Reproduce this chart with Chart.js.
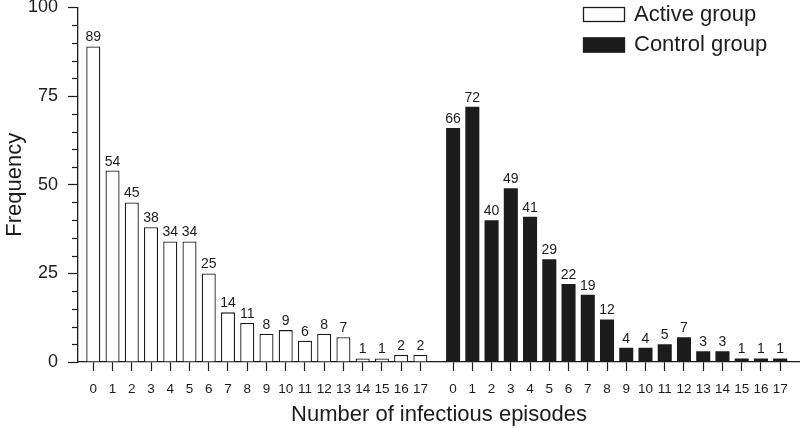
<!DOCTYPE html>
<html>
<head>
<meta charset="utf-8">
<title>Infectious episodes</title>
<script src="https://cdn.jsdelivr.net/npm/chart.js@4.4.1/dist/chart.umd.min.js"></script>
<style>
    html, body { margin: 0; padding: 0; background: #fff; }
    #wrap { width: 800px; height: 428px; }
</style>
</head>
<body>
<div id="wrap"><canvas id="chart" width="800" height="428"></canvas></div>
<script>
// number of episodes (same categories for both groups)
const episodes = [0, 1, 2, 3, 4, 5, 6, 7, 8, 9, 10, 11, 12, 13, 14, 15, 16, 17];
const activeGroup = [89, 54, 45, 38, 34, 34, 25, 14, 11, 8, 9, 6, 8, 7, 1, 1, 2, 2];
const controlGroup = [66, 72, 40, 49, 41, 29, 22, 19, 12, 4, 4, 5, 7, 3, 3, 1, 1, 1];
const yTicks = [0, 25, 50, 75, 100];
const seriesNames = ['Active group', 'Control group'];

// control block is drawn to the right of the active block
const CONTROL_SHIFT = 18.7;
const FONT = "'Liberation Sans', Arial, Helvetica, sans-serif";
const INK = '#1c1c1c';

const activePoints = episodes.map((e, i) => ({ x: e, y: activeGroup[i] }));
const controlPoints = episodes.map((e, i) => ({ x: e + CONTROL_SHIFT, y: controlGroup[i] }));
const xPositions = activePoints.concat(controlPoints).map(p => p.x);

function labelFor(value) {
    const v = value >= CONTROL_SHIFT - 0.5 ? value - CONTROL_SHIFT : value;
    return String(Math.round(v));
}

// numbers above bars
const barLabels = {
    id: 'barLabels',
    afterDatasetsDraw(chart) {
        const ctx = chart.ctx;
        ctx.save();
        ctx.font = '14px ' + FONT;
        ctx.fillStyle = INK;
        ctx.textAlign = 'center';
        ctx.textBaseline = 'alphabetic';
        chart.data.datasets.forEach((ds, di) => {
            chart.getDatasetMeta(di).data.forEach((bar, i) => {
                ctx.fillText(String(ds.data[i].y), bar.x, bar.y - 5);
            });
        });
        ctx.restore();
    }
};

// short ticks every 5 on the y axis
const minorTicks = {
    id: 'minorTicks',
    afterDraw(chart) {
        const y = chart.scales.y;
        const ctx = chart.ctx;
        ctx.save();
        ctx.strokeStyle = INK;
        ctx.lineWidth = 1.2;
        for (let v = 5; v < 100; v += 5) {
            if (v % 25 === 0) continue;
            const py = Math.round(y.getPixelForValue(v)) + 0.5;
            ctx.beginPath();
            ctx.moveTo(y.right - 6, py);
            ctx.lineTo(y.right, py);
            ctx.stroke();
        }
        ctx.restore();
    }
};

// legend in the top right corner
const boxLegend = {
    id: 'boxLegend',
    afterDraw(chart) {
        const ctx = chart.ctx;
        ctx.save();
        ctx.font = '22px ' + FONT;
        ctx.textBaseline = 'middle';
        ctx.textAlign = 'left';
        chart.data.datasets.forEach((ds, i) => {
            const top = 7 + i * 30.5;
            ctx.fillStyle = ds.backgroundColor;
            ctx.fillRect(583, top, 42, 15);
            ctx.strokeStyle = INK;
            ctx.lineWidth = 1.3;
            ctx.strokeRect(583.5, top + 0.5, 41, 14);
            ctx.fillStyle = INK;
            ctx.fillText(ds.label, 634, top + 7.5);
        });
        ctx.restore();
    }
};

new Chart(document.getElementById('chart'), {
    type: 'bar',
    data: {
        datasets: [
            {
                label: seriesNames[0],
                data: activePoints,
                backgroundColor: '#ffffff',
                borderColor: INK,
                borderWidth: 1.3
            },
            {
                label: seriesNames[1],
                data: controlPoints,
                backgroundColor: INK,
                borderColor: INK,
                borderWidth: 0
            }
        ]
    },
    options: {
        responsive: false,
        animation: false,
        devicePixelRatio: 1,
        grouped: false,
        barPercentage: 0.73,
        categoryPercentage: 1,
        layout: { padding: { top: 7.5, right: 0, left: 0, bottom: 0 } },
        plugins: {
            legend: { display: false },
            tooltip: { enabled: false }
        },
        scales: {
            x: {
                type: 'linear',
                offset: false,
                min: -0.795,
                max: 36.73,
                afterBuildTicks: (scale) => {
                    scale.ticks = xPositions.map(v => ({ value: v }));
                },
                afterFit: (scale) => {
                    scale.height = 66;
                    scale.paddingLeft = 0;
                    scale.paddingRight = 0;
                },
                ticks: {
                    autoSkip: false,
                    maxRotation: 0,
                    padding: 10,
                    color: INK,
                    font: { family: FONT, size: 13.5 },
                    callback: (value) => labelFor(value)
                },
                grid: {
                    offset: false,
                    drawOnChartArea: false,
                    tickLength: 9,
                    tickWidth: 1.2,
                    tickColor: INK
                },
                border: { display: true, color: INK, width: 1.3 },
                title: {
                    display: true,
                    text: 'Number of infectious episodes',
                    color: INK,
                    font: { family: FONT, size: 22 },
                    padding: { top: 0, bottom: 0 }
                }
            },
            y: {
                min: 0,
                max: 100,
                afterBuildTicks: (scale) => {
                    scale.ticks = yTicks.map(v => ({ value: v }));
                },
                afterFit: (scale) => {
                    scale.width = 78;
                    scale.paddingTop = 0;
                    scale.paddingBottom = 0;
                },
                ticks: {
                    padding: 10,
                    color: INK,
                    font: { family: FONT, size: 18 }
                },
                grid: {
                    drawOnChartArea: false,
                    tickLength: 10,
                    tickWidth: 1.2,
                    tickColor: INK
                },
                border: { display: true, color: INK, width: 1.3 },
                title: {
                    display: true,
                    text: 'Frequency',
                    color: INK,
                    font: { family: FONT, size: 22 },
                    padding: { top: 2, bottom: 0 }
                }
            }
        }
    },
    plugins: [barLabels, minorTicks, boxLegend]
});
</script>
</body>
</html>
